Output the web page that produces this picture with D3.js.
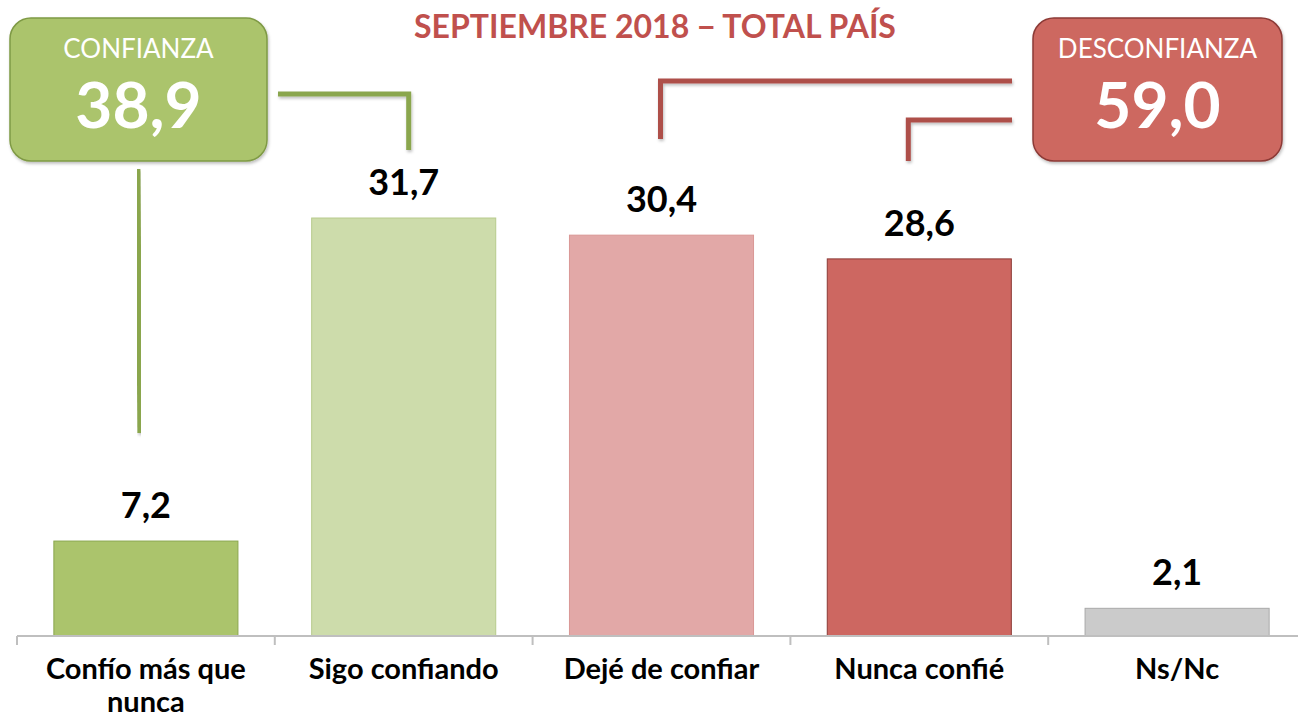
<!DOCTYPE html>
<html>
<head>
<meta charset="utf-8">
<script src="https://cdn.jsdelivr.net/npm/d3@7"></script>
<style>
  html, body { margin: 0; padding: 0; background: #fff; }
  svg { display: block; font-family: Lato, "Open Sans", sans-serif; }
</style>
</head>
<body>
<div id="chart"></div>
<script>
// datos
const categories = ["Confío más que nunca", "Sigo confiando", "Dejé de confiar", "Nunca confié", "Ns/Nc"];
const values = [7.2, 31.7, 30.4, 28.6, 2.1];
const barColors = ["#abc46c", "#cddcab", "#e2a8a7", "#cd6761", "#cbcbcb"];
const barStrokes = ["#8aa64e", "#b7cb8d", "#d99795", "#8c3a36", "#a9a9a9"];
const groupNames = ["CONFIANZA", "DESCONFIANZA"];
const groupTotals = [38.9, 59.0];
const title = "SEPTIEMBRE 2018 − TOTAL PAÍS";

const fmt = v => v.toFixed(1).replace(".", ",");

const width = 1298, height = 719;
const svg = d3.select("#chart").append("svg")
    .attr("width", width)
    .attr("height", height);

// sombra suave para conectores y cajas
const defs = svg.append("defs");
defs.append("filter").attr("id", "shadow")
    .attr("x", "-20%").attr("y", "-20%").attr("width", "140%").attr("height", "140%")
    .append("feDropShadow")
    .attr("dx", 1).attr("dy", 2).attr("stdDeviation", 1.5)
    .attr("flood-color", "#000").attr("flood-opacity", 0.25);

// escalas
const x = d3.scaleBand()
    .domain(categories)
    .range([17, 1306])
    .paddingInner(0.286)
    .paddingOuter(0.143);

const y = d3.scaleLinear()
    .domain([0, 35])
    .range([636, 174.5]);

// barras
svg.selectAll("rect.bar")
    .data(values)
    .join("rect")
    .attr("class", "bar")
    .attr("x", (d, i) => x(categories[i]))
    .attr("y", d => y(d))
    .attr("width", x.bandwidth())
    .attr("height", d => y(0) - y(d))
    .attr("fill", (d, i) => barColors[i])
    .attr("stroke", (d, i) => barStrokes[i])
    .attr("stroke-width", 1);

// eje x
const axisG = svg.append("g").attr("transform", `translate(0, ${y(0)})`);
axisG.append("line")
    .attr("x1", 17).attr("x2", width)
    .attr("stroke", "#bfbfbf").attr("stroke-width", 2);
axisG.selectAll("line.tick")
    .data(categories)
    .join("line")
    .attr("class", "tick")
    .attr("x1", d => x(d) - x.step() * x.paddingOuter())
    .attr("x2", d => x(d) - x.step() * x.paddingOuter())
    .attr("y1", 0).attr("y2", 9)
    .attr("stroke", "#bfbfbf").attr("stroke-width", 2);

// etiquetas de categoria (con salto de linea)
const catText = svg.selectAll("text.cat")
    .data(categories)
    .join("text")
    .attr("class", "cat")
    .attr("text-anchor", "middle")
    .attr("font-size", 29)
    .attr("font-weight", "bold")
    .attr("fill", "#000");

catText.each(function (d) {
    const t = d3.select(this);
    const cx = x(d) + x.bandwidth() / 2;
    const words = d.split(" ");
    let line = [], lines = [];
    const tmp = t.append("tspan");
    words.forEach(w => {
        line.push(w);
        tmp.text(line.join(" "));
        if (tmp.node().getComputedTextLength() > 240 && line.length > 1) {
            line.pop();
            lines.push(line.join(" "));
            line = [w];
        }
    });
    lines.push(line.join(" "));
    tmp.remove();
    lines.forEach((l, i) => {
        t.append("tspan").attr("x", cx).attr("y", 679 + i * 33).text(l);
    });
});

// valores sobre las barras
svg.selectAll("text.val")
    .data(values)
    .join("text")
    .attr("class", "val")
    .attr("x", (d, i) => x(categories[i]) + x.bandwidth() / 2)
    .attr("y", d => y(d) - 23)
    .attr("text-anchor", "middle")
    .attr("font-size", 36)
    .attr("font-weight", "bold")
    .attr("fill", "#000")
    .text(d => fmt(d));

// titulo
svg.append("text")
    .attr("x", 655)
    .attr("y", 38)
    .attr("text-anchor", "middle")
    .attr("font-size", 32)
    .attr("font-weight", "bold")
    .attr("fill", "#c0504d")
    .text(title);

// conectores
const cx = i => x(categories[i]) + x.bandwidth() / 2;
const green = "#8aa64e", red = "#ae4f4a";
const connectors = [
    { color: green, pts: [[cx(0) - 8, 169], [cx(0) - 6, 433]] },
    { color: green, pts: [[278, 94], [cx(1) + 5, 94], [cx(1) + 5, 150]] },
    { color: red, pts: [[1012, 81], [cx(2) - 1, 81], [cx(2) - 1, 139]] },
    { color: red, pts: [[1012, 120], [cx(3) - 11, 120], [cx(3) - 11, 161]] }
];
svg.selectAll("path.conn")
    .data(connectors)
    .join("path")
    .attr("class", "conn")
    .attr("d", d => d3.line()(d.pts))
    .attr("fill", "none")
    .attr("stroke", d => d.color)
    .attr("stroke-width", 5)
    .attr("stroke-linejoin", "miter")
    .attr("filter", "url(#shadow)");

// cajas de resumen
const boxes = [
    { x: 10, w: 257, fill: "#abc46c", stroke: "#7f9a45" },
    { x: 1033, w: 249, fill: "#cd6761", stroke: "#8c3a36" }
];
boxes.forEach((b, i) => {
    const g = svg.append("g");
    g.append("rect")
        .attr("x", b.x).attr("y", 18)
        .attr("width", b.w).attr("height", 143)
        .attr("rx", 21).attr("ry", 21)
        .attr("fill", b.fill)
        .attr("stroke", b.stroke)
        .attr("stroke-width", 1.5)
        .attr("filter", "url(#shadow)");
    g.append("text")
        .attr("x", b.x + b.w / 2).attr("y", 58)
        .attr("text-anchor", "middle")
        .attr("font-size", 26)
        .attr("fill", "#fff")
        .text(groupNames[i]);
    g.append("text")
        .attr("x", b.x + b.w / 2).attr("y", 128)
        .attr("text-anchor", "middle")
        .attr("font-size", 64)
        .attr("font-weight", "bold")
        .attr("fill", "#fff")
        .text(fmt(groupTotals[i]));
});
</script>
</body>
</html>
